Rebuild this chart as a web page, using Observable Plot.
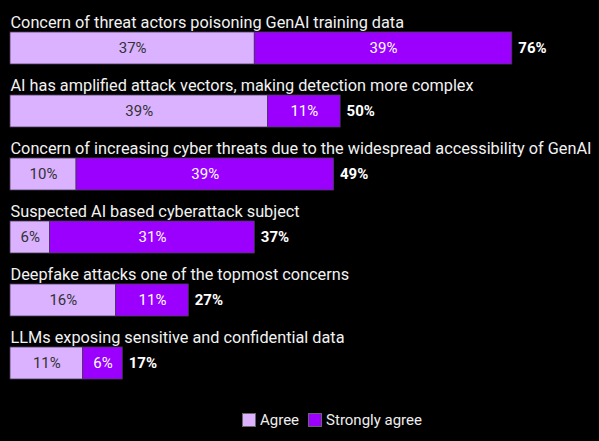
<!DOCTYPE html>
<html>
<head>
<meta charset="utf-8">
<script src="https://cdn.jsdelivr.net/npm/d3@7"></script>
<script src="https://cdn.jsdelivr.net/npm/@observablehq/plot@0.6"></script>
<style>
  html, body { margin: 0; padding: 0; background: #000; }
  body { width: 599px; height: 441px; overflow: hidden; font-family: Roboto, "Liberation Sans", sans-serif; }
  #chart svg { display: block; }
  #legend { display: flex; gap: 9px; margin-left: 242px; margin-top: 11px; color: #eee; font-size: 15px; align-items: center; }
  .item { display: flex; align-items: center; gap: 4px; }
  .sw { width: 14px; height: 14px; display: inline-block; border: 1px solid #666; box-sizing: border-box; }
</style>
</head>
<body>
<div id="chart"></div>
<div id="legend"></div>
<script>
const categories = [
  "Concern of threat actors poisoning GenAI training data",
  "AI has amplified attack vectors, making detection more complex",
  "Concern of increasing cyber threats due to the widespread accessibility of GenAI",
  "Suspected AI based cyberattack subject",
  "Deepfake attacks one of the topmost concerns",
  "LLMs exposing sensitive and confidential data"
];
const agree = [37, 39, 10, 6, 16, 11];
const stronglyAgree = [39, 11, 39, 31, 11, 6];
const totals = [76, 50, 49, 37, 27, 17];
const seriesNames = ["Agree", "Strongly agree"];
const colors = ["#dab2ff", "#9b00ff"];

const rows = [];
categories.forEach((c, i) => {
  rows.push({cat: c, series: seriesNames[0], x1: 0, x2: agree[i], v: agree[i]});
  rows.push({cat: c, series: seriesNames[1], x1: agree[i], x2: agree[i] + stronglyAgree[i], v: stronglyAgree[i]});
});
const totalRows = categories.map((c, i) => ({cat: c, total: totals[i], end: agree[i] + stronglyAgree[i]}));

const plot = Plot.plot({
  width: 599,
  height: 400,
  marginTop: 16,
  marginBottom: 5,
  marginLeft: 10,
  marginRight: 8,
  style: {background: "#000", fontFamily: "Roboto, 'Liberation Sans', sans-serif"},
  x: {domain: [0, 88], axis: null},
  y: {domain: categories, axis: null, paddingInner: 0.5, paddingOuter: 0.25, align: 0.5},
  color: {domain: seriesNames, range: colors},
  marks: [
    Plot.barX(rows, {y: "cat", x1: "x1", x2: "x2", fill: "series", stroke: "#4a3a5a", strokeWidth: 0.8}),
    Plot.text(rows, {
      y: "cat", x: d => (d.x1 + d.x2) / 2, text: d => d.v + "%",
      fill: d => d.series === "Agree" ? "#333" : "#fff",
      fontWeight: d => d.series === "Agree" ? "normal" : "bold",
      fontSize: 15
    }),
    Plot.text(totalRows, {
      y: "cat", x: "end", text: d => d.total + "%", dx: 6, textAnchor: "start",
      fill: "#fff", fontWeight: "bold", fontSize: 15
    }),
    Plot.text(categories, {
      y: d => d, x: 0, text: d => d, textAnchor: "start", lineAnchor: "bottom",
      dy: -21, fill: "#f2f2f2", fontSize: 16.3
    })
  ]
});
document.getElementById("chart").appendChild(plot);

const legend = document.getElementById("legend");
seriesNames.forEach((s, i) => {
  const it = document.createElement("div");
  it.className = "item";
  const sw = document.createElement("span");
  sw.className = "sw";
  sw.style.background = colors[i];
  it.appendChild(sw);
  const t = document.createElement("span");
  t.textContent = s;
  it.appendChild(t);
  legend.appendChild(it);
});
</script>
</body>
</html>
